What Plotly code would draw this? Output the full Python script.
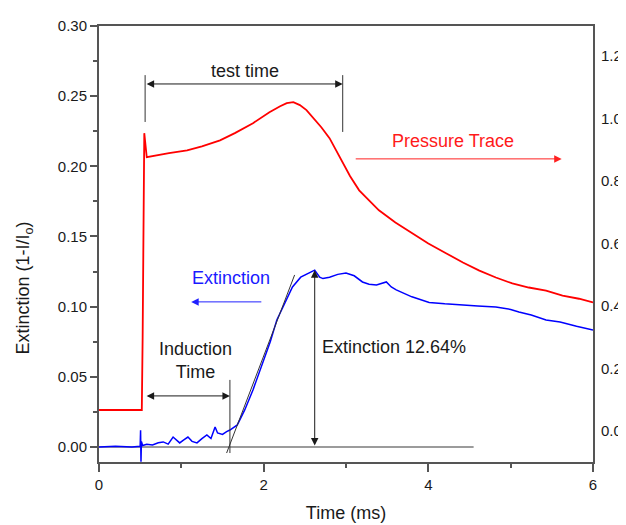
import plotly.graph_objects as go

# ---- data ----
t_red = [0, 0.3, 0.52, 0.53, 0.545, 0.55, 0.58, 0.7, 0.85, 1.07, 1.25, 1.47, 1.65, 1.87, 2.07,
         2.2, 2.28, 2.36, 2.44, 2.52, 2.6, 2.7, 2.8, 2.88, 2.96, 3.05, 3.16, 3.28, 3.4, 3.6,
         3.81, 4.0, 4.22, 4.42, 4.62, 4.82, 5.02, 5.22, 5.43, 5.63, 5.83, 6.0]
pressure = [0.067, 0.067, 0.067, 0.30, 0.76, 0.953, 0.876, 0.882, 0.889, 0.898, 0.911, 0.930,
            0.953, 0.985, 1.020, 1.039, 1.049, 1.052, 1.043, 1.027, 1.004, 0.972, 0.937,
            0.898, 0.857, 0.815, 0.770, 0.738, 0.706, 0.667, 0.632, 0.600, 0.568, 0.539,
            0.513, 0.491, 0.472, 0.459, 0.449, 0.433, 0.423, 0.411]

t_blue = [0, 0.2, 0.4, 0.5, 0.505, 0.51, 0.515, 0.53, 0.58, 0.65, 0.72, 0.78, 0.84, 0.9, 0.95,
          0.98, 1.03, 1.08, 1.13, 1.19, 1.25, 1.31, 1.36, 1.41, 1.44, 1.5, 1.55, 1.59, 1.68,
          1.77, 1.87, 1.99, 2.08, 2.16, 2.25, 2.35, 2.45, 2.55, 2.62, 2.68, 2.72, 2.8, 2.9,
          3.0, 3.1, 3.2, 3.28, 3.37, 3.43, 3.49, 3.55, 3.61, 3.8, 4.01, 4.2, 4.41, 4.6, 4.82,
          5.0, 5.1, 5.25, 5.43, 5.6, 5.8, 6.0]
extinction = [0.0, 0.0005, 0.0, 0.0005, 0.012, -0.0105, 0.004, 0.001, 0.002, 0.0014, 0.003,
              0.0036, 0.002, 0.0071, 0.004, 0.0029, 0.005, 0.0071, 0.004, 0.0029, 0.006,
              0.0086, 0.006, 0.0143, 0.010, 0.009, 0.011, 0.0121, 0.0157, 0.0264, 0.0406,
              0.0599, 0.075, 0.0905, 0.102, 0.114, 0.121, 0.124, 0.126, 0.121, 0.120, 0.121,
              0.123, 0.124, 0.122, 0.1176, 0.116, 0.1155, 0.1165, 0.1176, 0.114, 0.112,
              0.107, 0.103, 0.102, 0.101, 0.1005, 0.0998, 0.098, 0.0962, 0.094, 0.0905,
              0.089, 0.086, 0.0834]

tangent_t = [1.55, 2.376]
tangent_e = [-0.0043, 0.1226]
baseline_t = [0, 4.55]
baseline_e = [0, 0]

x_ticks = [0, 2, 4, 6]
y_ticks = [0.00, 0.05, 0.10, 0.15, 0.20, 0.25, 0.30]
y2_ticks = [0.0, 0.2, 0.4, 0.6, 0.8, 1.0, 1.2]

FONT = "Liberation Sans, Arial, sans-serif"
AX = "#555555"
DARK = "#1a1a1a"

fig = go.Figure()
fig.add_trace(go.Scatter(x=baseline_t, y=baseline_e, mode="lines",
                         line=dict(color="#7a7a7a", width=1.3), hoverinfo="skip"))
fig.add_trace(go.Scatter(x=t_blue, y=extinction, mode="lines",
                         line=dict(color="#0000ff", width=1.5)))
fig.add_trace(go.Scatter(x=tangent_t, y=tangent_e, mode="lines",
                         line=dict(color="#333333", width=1), hoverinfo="skip"))
fig.add_trace(go.Scatter(x=t_red, y=pressure, mode="lines", yaxis="y2",
                         line=dict(color="#ff0000", width=1.8)))

# guide lines
guides = [
    ([0.56, 0.56], [0.265, 0.2316]),
    ([2.96, 2.96], [0.265, 0.2245]),
    ([1.59, 1.59], [0.0478, -0.0043]),
]
for gx, gy in guides:
    fig.add_trace(go.Scatter(x=gx, y=gy, mode="lines",
                             line=dict(color="#333333", width=1), hoverinfo="skip"))

def arrow(x0, y0, x1, y1, color=DARK, both=False):
    fig.add_annotation(x=x1, y=y1, ax=x0, ay=y0, xref="x", yref="y", axref="x", ayref="y",
                       showarrow=True, arrowhead=2, arrowsize=1.5, arrowwidth=1,
                       arrowcolor=color, arrowside="end+start" if both else "end", text="")

arrow(0.56, 0.2587, 2.96, 0.2587, both=True)
arrow(3.10, 0.2053, 5.62, 0.2053, color="#ff2020")
arrow(1.99, 0.1034, 1.12, 0.1034, color="#2020ff")
arrow(0.56, 0.0364, 1.59, 0.0364, both=True)
arrow(2.62, 0.0, 2.62, 0.126, both=True)

def label(x, y, text, color=DARK, size=18, xanchor="center"):
    fig.add_annotation(x=x, y=y, xref="x", yref="y", text=text, showarrow=False,
                       font=dict(family=FONT, size=size, color=color), xanchor=xanchor)

label(1.77, 0.268, "test time")
label(4.30, 0.218, "Pressure Trace", color="#ff1a1a")
label(1.60, 0.1205, "Extinction", color="#1a1aff")
label(0.70, 0.0617, "Induction<br>Time", xanchor="left")
label(2.68, 0.0713, "Extinction 12.64%", xanchor="left")

# y-axis title (placed as text to match the reference position)
fig.add_annotation(xref="paper", yref="paper", x=-0.15, y=0.40,
                   xanchor="center", yanchor="middle",
                   text="Extinction (1-I/I<sub>o</sub>)",
                   textangle=-90, showarrow=False, font=dict(family=FONT, size=18, color=DARK))

# the page body adds an 8px margin, so the figure is 8px smaller and its margins shifted
fig.update_layout(
    width=618, height=517,
    margin=dict(l=91, r=33, t=18, b=63, autoexpand=False),
    paper_bgcolor="white", plot_bgcolor="white",
    showlegend=False,
    font=dict(family=FONT, size=15, color=DARK),
    xaxis=dict(range=[0, 6], tickvals=x_ticks, ticktext=[str(v) for v in x_ticks],
               ticks="outside", ticklen=8, tickcolor=AX, tickwidth=1.5,
               minor=dict(dtick=1, ticks="outside", ticklen=4, tickcolor=AX),
               showline=True, linecolor=AX, linewidth=2, mirror=True,
               showgrid=False, zeroline=False, automargin=False,
               title=dict(text="Time (ms)", font=dict(size=18), standoff=14)),
    yaxis=dict(range=[-0.0107, 0.30], tickvals=y_ticks,
               ticktext=[f"{v:.2f}" for v in y_ticks],
               ticks="outside", ticklen=7, tickcolor=AX, tickwidth=1.5,
               minor=dict(dtick=0.025, tick0=0, ticks="outside", ticklen=4, tickcolor=AX),
               showline=True, linecolor=AX, linewidth=2,
               showgrid=False, zeroline=False, automargin=False),
    yaxis2=dict(range=[-0.0995, 1.296], overlaying="y", side="right",
                tickvals=y2_ticks, ticktext=[f"{v:.1f}" for v in y2_ticks],
                ticks="outside", ticklen=3, tickcolor="rgba(0,0,0,0)",
                showline=True, linecolor=AX, linewidth=2,
                showgrid=False, zeroline=False, automargin=False),
)

fig.write_html("out.html")
